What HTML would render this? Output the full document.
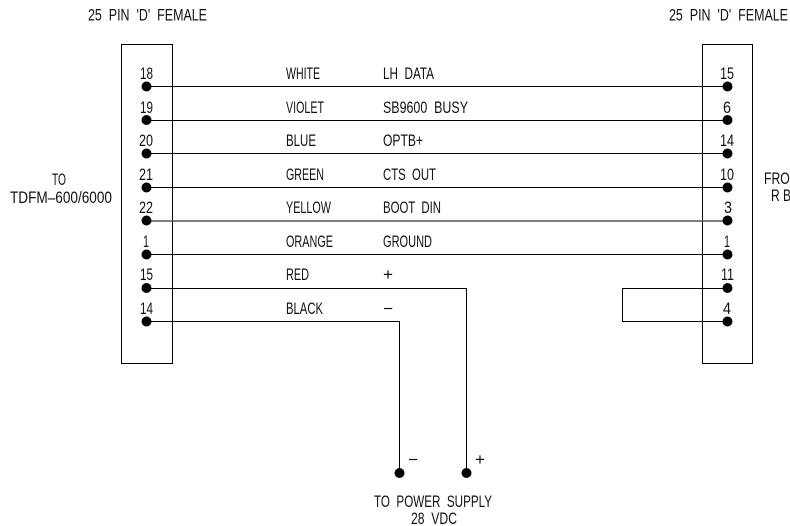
<!DOCTYPE html>
<html><head><meta charset="utf-8"><style>
html,body{margin:0;padding:0;background:#fff}
svg{display:block}
text{font-family:"Liberation Sans",sans-serif;font-size:16.5px;fill:#111}
</style></head><body>
<svg width="790" height="526" viewBox="0 0 790 526" xmlns="http://www.w3.org/2000/svg">
<g fill="none" stroke="#000" stroke-width="1">
<rect x="121.5" y="44.5" width="51" height="319"/>
<rect x="702.5" y="44.5" width="50" height="319"/>
<path d="M146.5 86.5H727.5M146.5 120.5H727.5M146.5 153.5H727.5M146.5 187.5H727.5M146.5 254.5H727.5"/>
<path d="M146.5 221H727.5" stroke="#555" stroke-width="1.6"/>
<path d="M146.5 288.5H466.5V473M146.5 321.5H399.5V473"/>
<path d="M727.5 288.5H622.5V321.5H727.5"/>
</g>
<g fill="#000">
<circle cx="146.5" cy="86.5" r="5"/><circle cx="146.5" cy="120" r="5"/><circle cx="146.5" cy="153.5" r="5"/><circle cx="146.5" cy="187.5" r="5"/><circle cx="146.5" cy="220.5" r="5"/><circle cx="146.5" cy="254.5" r="5"/><circle cx="146.5" cy="288" r="5"/><circle cx="146.5" cy="321.5" r="5"/>
<circle cx="727.5" cy="86.5" r="5"/><circle cx="727.5" cy="120" r="5"/><circle cx="727.5" cy="153.5" r="5"/><circle cx="727.5" cy="187.5" r="5"/><circle cx="727.5" cy="220.5" r="5"/><circle cx="727.5" cy="254.5" r="5"/><circle cx="727.5" cy="288" r="5"/><circle cx="727.5" cy="321.5" r="5"/>
<circle cx="399.5" cy="473" r="5"/><circle cx="466.5" cy="473" r="5"/>
</g>
<g>
<text x="88" y="20.5" textLength="119" lengthAdjust="spacingAndGlyphs" xml:space="preserve">25  PIN  'D'  FEMALE</text>
<text x="669" y="20.5" textLength="119" lengthAdjust="spacingAndGlyphs" xml:space="preserve">25  PIN  'D'  FEMALE</text>
<text x="52" y="185" textLength="14" lengthAdjust="spacingAndGlyphs">TO</text>
<text x="10" y="203" textLength="102" lengthAdjust="spacingAndGlyphs">TDFM–600/6000</text>
<text x="764" y="184" textLength="36" lengthAdjust="spacingAndGlyphs">FROM</text>
<text x="771" y="201" textLength="20" lengthAdjust="spacingAndGlyphs" xml:space="preserve">R B</text>

<text x="140" y="79" textLength="13" lengthAdjust="spacingAndGlyphs">18</text>
<text x="140" y="113" textLength="13" lengthAdjust="spacingAndGlyphs">19</text>
<text x="139" y="146" textLength="14" lengthAdjust="spacingAndGlyphs">20</text>
<text x="139" y="180" textLength="14" lengthAdjust="spacingAndGlyphs">21</text>
<text x="139" y="213" textLength="14" lengthAdjust="spacingAndGlyphs">22</text>
<text x="143" y="247" textLength="6" lengthAdjust="spacingAndGlyphs">1</text>
<text x="140" y="280" textLength="13" lengthAdjust="spacingAndGlyphs">15</text>
<text x="140" y="314" textLength="13" lengthAdjust="spacingAndGlyphs">14</text>

<text x="720" y="79" textLength="14" lengthAdjust="spacingAndGlyphs">15</text>
<text x="723" y="113" textLength="8" lengthAdjust="spacingAndGlyphs">6</text>
<text x="720" y="146" textLength="14" lengthAdjust="spacingAndGlyphs">14</text>
<text x="720" y="180" textLength="14" lengthAdjust="spacingAndGlyphs">10</text>
<text x="724" y="213" textLength="8" lengthAdjust="spacingAndGlyphs">3</text>
<text x="724" y="247" textLength="6" lengthAdjust="spacingAndGlyphs">1</text>
<text x="721" y="280" textLength="13" lengthAdjust="spacingAndGlyphs">11</text>
<text x="723" y="314" textLength="8" lengthAdjust="spacingAndGlyphs">4</text>

<text x="286" y="79" textLength="34" lengthAdjust="spacingAndGlyphs">WHITE</text>
<text x="286" y="113" textLength="38" lengthAdjust="spacingAndGlyphs">VIOLET</text>
<text x="286" y="146" textLength="30" lengthAdjust="spacingAndGlyphs">BLUE</text>
<text x="286" y="180" textLength="38" lengthAdjust="spacingAndGlyphs">GREEN</text>
<text x="286" y="213" textLength="45" lengthAdjust="spacingAndGlyphs">YELLOW</text>
<text x="286" y="247" textLength="47" lengthAdjust="spacingAndGlyphs">ORANGE</text>
<text x="286" y="280" textLength="23" lengthAdjust="spacingAndGlyphs">RED</text>
<text x="286" y="314" textLength="37" lengthAdjust="spacingAndGlyphs">BLACK</text>

<text x="383" y="79" textLength="51" lengthAdjust="spacingAndGlyphs" xml:space="preserve">LH  DATA</text>
<text x="383" y="113" textLength="85" lengthAdjust="spacingAndGlyphs" xml:space="preserve">SB9600  BUSY</text>
<text x="383" y="146" textLength="40" lengthAdjust="spacingAndGlyphs">OPTB+</text>
<text x="383" y="180" textLength="53" lengthAdjust="spacingAndGlyphs" xml:space="preserve">CTS  OUT</text>
<text x="383" y="213" textLength="58" lengthAdjust="spacingAndGlyphs" xml:space="preserve">BOOT  DIN</text>
<text x="383" y="247" textLength="49" lengthAdjust="spacingAndGlyphs">GROUND</text>
<text x="383" y="280" textLength="10" lengthAdjust="spacingAndGlyphs">+</text>
<text x="383" y="314" textLength="10" lengthAdjust="spacingAndGlyphs">−</text>

<text x="408" y="465" textLength="10" lengthAdjust="spacingAndGlyphs">−</text>
<text x="475" y="465" textLength="10" lengthAdjust="spacingAndGlyphs">+</text>
<text x="374" y="507" textLength="118" lengthAdjust="spacingAndGlyphs" xml:space="preserve">TO  POWER  SUPPLY</text>
<text x="411" y="524" textLength="46" lengthAdjust="spacingAndGlyphs" xml:space="preserve">28  VDC</text>
</g>
</svg>
</body></html>
